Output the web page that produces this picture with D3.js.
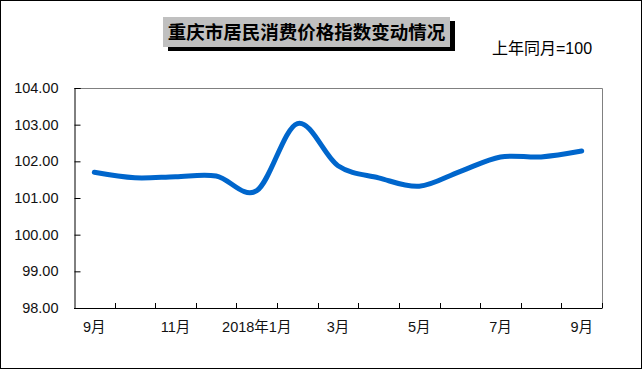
<!DOCTYPE html>
<html>
<head>
<meta charset="utf-8">
<script src="https://cdn.jsdelivr.net/npm/d3@7"></script>
<style>
  body { margin: 0; background: #fff; }
  svg { display: block; font-family: "Liberation Sans", Arial, "Noto Sans CJK SC", sans-serif; }
</style>
</head>
<body>
<svg id="chart" width="642" height="369"></svg>
<script>
// months from 2017-09 to 2018-09
var months = ['9月', '10月', '11月', '12月', '2018年1月', '2月', '3月', '4月', '5月', '6月', '7月', '8月', '9月'];
var shownLabels = [0, 2, 4, 6, 8, 10, 12];
var cpiValues = [101.7, 101.55, 101.58, 101.6, 101.2, 103.03, 101.88, 101.55, 101.32, 101.72, 102.12, 102.12, 102.28];
var yTicks = [98, 99, 100, 101, 102, 103, 104];

var title = '重庆市居民消费价格指数变动情况';
var baseNote = '上年同月=100';

var svg = d3.select('#chart');
var width = 642, height = 369;
var plot = { left: 74, right: 602, top: 88, bottom: 308 };

// outer frame
svg.append('rect')
    .attr('x', 0.5)
    .attr('y', 0.5)
    .attr('width', width - 1)
    .attr('height', height - 1)
    .attr('fill', '#fff')
    .attr('stroke', '#000')
    .attr('stroke-width', 1);

var x = d3.scaleBand()
    .domain(months.map(function(d, i) { return i; }))
    .range([plot.left, plot.right])
    .padding(0);

var y = d3.scaleLinear()
    .domain([98, 104])
    .range([plot.bottom, plot.top]);

// plot area border (top and right grey)
svg.append('path')
    .attr('d', 'M' + plot.left + ',' + (plot.top + 0.5) + 'H' + (plot.right + 0.5) + 'V' + plot.bottom)
    .attr('fill', 'none')
    .attr('stroke', '#808080')
    .attr('stroke-width', 1);

// y axis
var yAxis = d3.axisLeft(y)
    .tickValues(yTicks)
    .tickSize(-6)
    .tickPadding(16)
    .tickFormat(d3.format('.2f'));

var yg = svg.append('g')
    .attr('transform', 'translate(' + (plot.left + 0.5) + ',0)')
    .call(yAxis);
yg.select('.domain').attr('stroke', '#000');
yg.selectAll('.tick line').attr('stroke', '#000');
yg.selectAll('.tick text')
    .attr('font-size', 14.5)
    .attr('fill', '#111')
    .attr('font-family', '"Liberation Sans", Arial, sans-serif');

// x axis: tick marks on category boundaries
var boundaries = d3.range(months.length + 1).map(function(i) {
    return plot.left + i * x.bandwidth();
});

var xg = svg.append('g');
xg.append('line')
    .attr('x1', plot.left)
    .attr('x2', plot.right + 0.5)
    .attr('y1', plot.bottom + 0.5)
    .attr('y2', plot.bottom + 0.5)
    .attr('stroke', '#000');

xg.selectAll('.xtick')
    .data(boundaries.slice(1))
    .enter()
    .append('line')
        .attr('class', 'xtick')
        .attr('x1', function(d) { return Math.round(d) + 0.5; })
        .attr('x2', function(d) { return Math.round(d) + 0.5; })
        .attr('y1', plot.bottom - 5)
        .attr('y2', plot.bottom)
        .attr('stroke', '#000');

xg.selectAll('.xlabel')
    .data(shownLabels)
    .enter()
    .append('text')
        .attr('class', 'xlabel')
        .attr('x', function(i) { return x(i) + x.bandwidth() / 2; })
        .attr('y', 332)
        .attr('text-anchor', 'middle')
        .attr('font-size', 14.5)
        .attr('fill', '#111')
        .text(function(i) { return months[i]; });

// smoothed line
var line = d3.line()
    .x(function(d, i) { return x(i) + x.bandwidth() / 2; })
    .y(function(d) { return y(d); })
    .curve(d3.curveCardinal.tension(0));

svg.append('path')
    .datum(cpiValues)
    .attr('d', line)
    .attr('fill', 'none')
    .attr('stroke', '#0066cc')
    .attr('stroke-width', 5)
    .attr('stroke-linecap', 'round')
    .attr('stroke-linejoin', 'round');

// title box with shadow
var box = { x: 163, y: 17, w: 287, h: 30 };
svg.append('rect')
    .attr('x', box.x + 5)
    .attr('y', box.y + 4)
    .attr('width', box.w)
    .attr('height', box.h)
    .attr('fill', '#000');
svg.append('rect')
    .attr('x', box.x)
    .attr('y', box.y)
    .attr('width', box.w)
    .attr('height', box.h)
    .attr('fill', '#c0c0c0');
svg.append('text')
    .attr('x', box.x + box.w / 2)
    .attr('y', box.y + 22)
    .attr('text-anchor', 'middle')
    .attr('font-size', 18.5)
    .attr('font-weight', 'bold')
    .attr('font-family', '"Noto Sans CJK SC", sans-serif')
    .attr('fill', '#000')
    .text(title);

svg.append('text')
    .attr('x', 492)
    .attr('y', 54)
    .attr('font-size', 16)
    .attr('fill', '#000')
    .text(baseNote);
</script>
</body>
</html>
